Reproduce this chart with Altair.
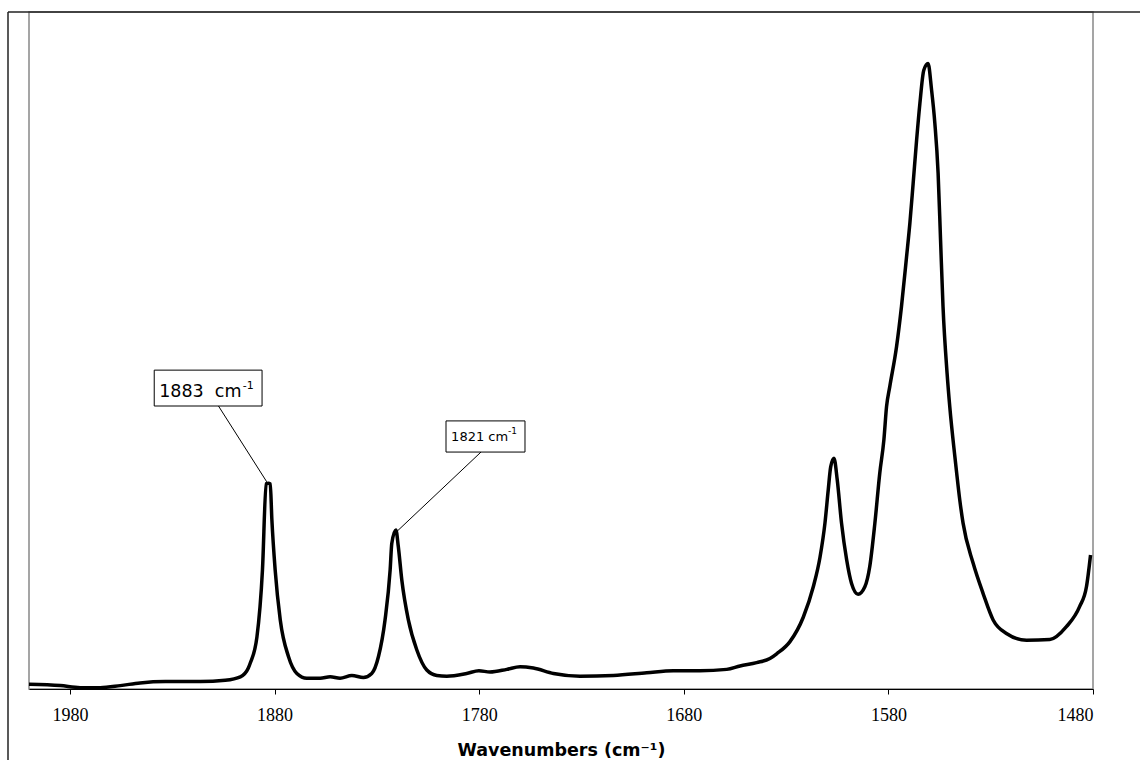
import altair as alt
import pandas as pd

# Spectrum (wavenumber in cm-1, absorbance in arbitrary units)
wavenumber = [2000.0, 1984.7, 1975.0, 1965.2, 1955.4, 1945.7, 1933.4, 1916.2, 1904.1, 1896.7,
              1892.8, 1891.9, 1888.6, 1885.9, 1884.1, 1883.0, 1882.1, 1881.3, 1879.7, 1877.2,
              1873.2, 1869.1, 1864.2, 1857.7, 1852.8, 1848.0, 1842.2, 1836.6, 1832.5, 1829.2,
              1826.0, 1823.5, 1822.7, 1820.7, 1819.5, 1817.8, 1814.6, 1810.5, 1805.6, 1800.7,
              1795.8, 1786.1, 1780.1, 1774.7, 1766.5, 1760.0, 1753.5, 1743.7, 1730.7, 1714.4,
              1698.1, 1685.1, 1672.1, 1659.0, 1652.5, 1644.4, 1637.9, 1634.6, 1628.1, 1621.6,
              1616.7, 1613.4, 1611.0, 1609.4, 1608.2, 1606.6, 1605.0, 1602.9, 1600.4, 1598.0,
              1594.8, 1591.5, 1589.1, 1586.6, 1584.2, 1582.2, 1580.9, 1579.3, 1576.0, 1573.6,
              1571.1, 1569.5, 1567.9, 1566.2, 1564.6, 1562.7, 1560.6, 1558.9, 1557.3, 1555.7,
              1554.5, 1553.3, 1551.3, 1550.0, 1547.5, 1546.7, 1545.1, 1543.5, 1538.6, 1533.7,
              1528.8, 1522.3, 1512.5, 1501.1, 1493.0, 1486.5, 1483.2, 1481.2]
absorbance = [0.007, 0.005, 0.002, 0.002, 0.005, 0.009, 0.011, 0.011, 0.013, 0.018,
              0.031, 0.038, 0.077, 0.176, 0.303, 0.304, 0.303, 0.250, 0.176, 0.102,
              0.048, 0.023, 0.016, 0.016, 0.018, 0.016, 0.020, 0.017, 0.023, 0.048,
              0.102, 0.176, 0.215, 0.235, 0.210, 0.161, 0.102, 0.058, 0.028, 0.020,
              0.019, 0.023, 0.027, 0.025, 0.029, 0.033, 0.031, 0.023, 0.019, 0.020,
              0.024, 0.027, 0.027, 0.029, 0.034, 0.039, 0.045, 0.052, 0.070, 0.106,
              0.151, 0.195, 0.245, 0.294, 0.328, 0.341, 0.309, 0.245, 0.191, 0.156,
              0.140, 0.151, 0.181, 0.245, 0.319, 0.368, 0.417, 0.447, 0.506, 0.565,
              0.639, 0.688, 0.747, 0.811, 0.865, 0.914, 0.924, 0.885, 0.836, 0.762,
              0.663, 0.565, 0.466, 0.417, 0.343, 0.321, 0.279, 0.245, 0.186, 0.141,
              0.102, 0.082, 0.072, 0.073, 0.092, 0.122, 0.151, 0.198]

tick_values = [1980, 1880, 1780, 1680, 1580, 1480]

# Peak annotations
ann_labels = ["1883\u00a0\u00a0cm", "1821 cm"]
ann_sup = ["-1", "-1"]
ann_size = [17.5, 13]
ann_sup_size = [11, 9]
ann_text_x = [1936.4, 1793.7]
ann_text_y = [0.431, 0.366]
ann_sup_x = [1895.5, 1765.9]
ann_sup_y = [0.443, 0.377]
box_x1 = [1938.8, 1796.2]
box_x2 = [1886.1, 1757.6]
box_y1 = [0.471, 0.396]
box_y2 = [0.418, 0.350]
lead_x1 = [1907.4, 1779.1]
lead_y1 = [0.418, 0.350]
lead_x2 = [1883.8, 1820.1]
lead_y2 = [0.306, 0.233]

spec = pd.DataFrame({"wn": wavenumber, "A": absorbance})
ann = pd.DataFrame({"label": ann_labels, "sup": ann_sup, "size": ann_size, "supsize": ann_sup_size,
                    "tx": ann_text_x, "ty": ann_text_y, "sx": ann_sup_x, "sy": ann_sup_y,
                    "bx1": box_x1, "bx2": box_x2, "by1": box_y1, "by2": box_y2,
                    "lx1": lead_x1, "ly1": lead_y1, "lx2": lead_x2, "ly2": lead_y2})

xscale = alt.Scale(domain=[1480, 2000], reverse=True, nice=False, zero=False)
yscale = alt.Scale(domain=[0, 1], nice=False, zero=False)

xaxis = alt.Axis(values=tick_values, format="d", grid=False,
                 labelFont="Liberation Serif", labelFontSize=18, labelColor="black",
                 labelPadding=12, tickColor="black", tickSize=5, domainColor="black",
                 title="Wavenumbers (cm\u207b\u00b9)", titleFont="DejaVu Sans",
                 titleFontSize=17.5, titleFontWeight="bold", titleColor="black",
                 titlePadding=17)

line = alt.Chart(spec).mark_line(color="black", strokeWidth=3.5, interpolate="monotone").encode(
    x=alt.X("wn:Q", scale=xscale, axis=xaxis),
    y=alt.Y("A:Q", scale=yscale, axis=None),
    order=alt.Order("wn:Q", sort="descending"),
)

leaders = alt.Chart(ann).mark_rule(color="black", strokeWidth=1).encode(
    x=alt.X("lx1:Q", scale=xscale), y=alt.Y("ly1:Q", scale=yscale),
    x2="lx2:Q", y2="ly2:Q",
)

boxes = alt.Chart(ann).mark_rect(fill="white", stroke="black", strokeWidth=1).encode(
    x=alt.X("bx1:Q", scale=xscale), x2="bx2:Q",
    y=alt.Y("by1:Q", scale=yscale), y2="by2:Q",
)

texts = alt.Chart(ann).mark_text(align="left", baseline="alphabetic", font="DejaVu Sans",
                                 color="black").encode(
    x=alt.X("tx:Q", scale=xscale), y=alt.Y("ty:Q", scale=yscale), text="label:N",
    size=alt.Size("size:Q", scale=None),
)

sups = alt.Chart(ann).mark_text(align="left", baseline="alphabetic", font="DejaVu Sans",
                                color="black").encode(
    x=alt.X("sx:Q", scale=xscale), y=alt.Y("sy:Q", scale=yscale), text="sup:N",
    size=alt.Size("supsize:Q", scale=None),
)

frame_top = alt.Chart(alt.Data(values=[{}])).mark_rule(color="#222222", strokeWidth=1.5).encode(
    x=alt.value(-21), x2=alt.value(1120), y=alt.value(0))
frame_left = alt.Chart(alt.Data(values=[{}])).mark_rule(color="#222222", strokeWidth=1.5).encode(
    x=alt.value(-21), y=alt.value(0), y2=alt.value(760))

chart = alt.layer(line, leaders, boxes, texts, sups, frame_top, frame_left).properties(
    width=1064, height=677,
    autosize=alt.AutoSizeParams(type="none"),
    padding={"left": 29, "top": 12, "right": 47, "bottom": 71},
    background="white",
).configure_view(stroke="#888888", strokeWidth=1.5)

chart.save("out.html", embed_options={"renderer": "svg", "actions": False})
